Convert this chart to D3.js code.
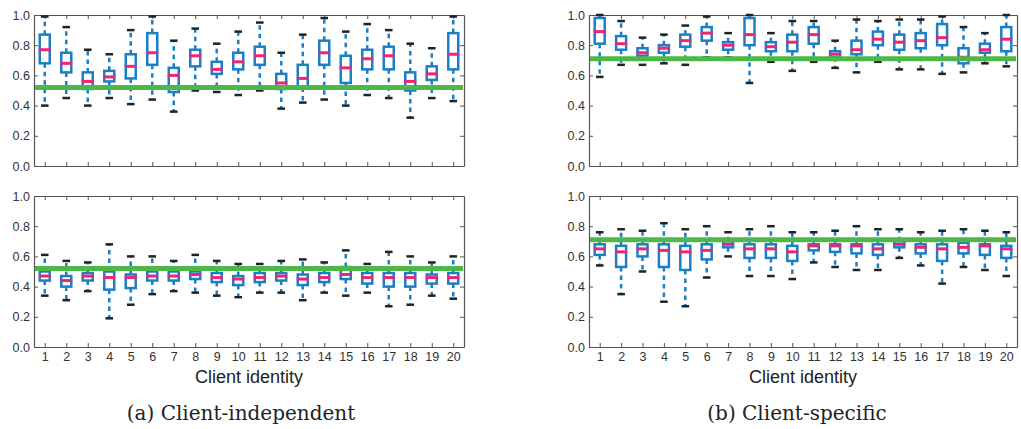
<!DOCTYPE html>
<html>
<head>
<meta charset="utf-8">
<script src="https://cdn.jsdelivr.net/npm/d3@7"></script>
<style>
  body { margin: 0; background: white; }
</style>
</head>
<body>
<script>
// client ids on the x axis
const clients = [1,2,3,4,5,6,7,8,9,10,11,12,13,14,15,16,17,18,19,20]
const yTicks = [0, 0.2, 0.4, 0.6, 0.8, 1.0]

// (a) client-independent, top panel
const aTopHi  = [0.99,0.92,0.77,0.74,0.90,0.99,0.83,0.91,0.81,0.89,0.95,0.75,0.87,0.98,0.89,0.94,0.90,0.81,0.78,0.99]
const aTopQ3  = [0.87,0.75,0.62,0.63,0.74,0.88,0.65,0.77,0.69,0.75,0.79,0.61,0.67,0.83,0.73,0.77,0.79,0.62,0.66,0.88]
const aTopMed = [0.77,0.68,0.56,0.59,0.66,0.75,0.60,0.73,0.64,0.69,0.73,0.55,0.58,0.75,0.65,0.71,0.73,0.56,0.61,0.74]
const aTopQ1  = [0.68,0.62,0.51,0.56,0.58,0.67,0.49,0.66,0.61,0.64,0.67,0.51,0.52,0.67,0.55,0.64,0.64,0.50,0.57,0.64]
const aTopLo  = [0.40,0.45,0.40,0.45,0.41,0.44,0.36,0.50,0.49,0.47,0.50,0.38,0.42,0.44,0.40,0.47,0.45,0.32,0.45,0.43]
// (a) client-independent, bottom panel
const aBotHi  = [0.61,0.57,0.56,0.68,0.60,0.60,0.57,0.61,0.57,0.55,0.55,0.57,0.58,0.56,0.64,0.55,0.63,0.60,0.56,0.60]
const aBotQ3  = [0.50,0.47,0.49,0.50,0.48,0.50,0.50,0.50,0.49,0.47,0.49,0.49,0.48,0.49,0.53,0.49,0.49,0.49,0.48,0.49]
const aBotMed = [0.47,0.44,0.47,0.46,0.46,0.47,0.47,0.48,0.46,0.45,0.46,0.47,0.45,0.46,0.48,0.46,0.46,0.46,0.46,0.46]
const aBotQ1  = [0.44,0.40,0.44,0.38,0.39,0.44,0.44,0.45,0.43,0.41,0.43,0.44,0.41,0.43,0.45,0.42,0.40,0.40,0.42,0.42]
const aBotLo  = [0.34,0.31,0.37,0.19,0.28,0.35,0.37,0.36,0.34,0.33,0.36,0.36,0.31,0.36,0.34,0.36,0.27,0.28,0.34,0.32]
// (b) client-specific, top panel
const bTopHi  = [1.00,0.96,0.85,0.87,0.93,0.99,0.88,1.00,0.88,0.96,0.96,0.83,0.97,0.96,0.97,0.97,0.99,0.92,0.88,1.00]
const bTopQ3  = [0.98,0.86,0.78,0.80,0.87,0.92,0.82,0.98,0.82,0.87,0.92,0.76,0.83,0.89,0.87,0.88,0.94,0.78,0.81,0.92]
const bTopMed = [0.89,0.81,0.75,0.78,0.83,0.88,0.80,0.87,0.79,0.82,0.87,0.74,0.77,0.84,0.82,0.83,0.85,0.72,0.77,0.84]
const bTopQ1  = [0.81,0.77,0.73,0.75,0.79,0.83,0.77,0.80,0.76,0.76,0.81,0.72,0.74,0.80,0.77,0.78,0.80,0.68,0.75,0.76]
const bTopLo  = [0.59,0.67,0.67,0.68,0.67,0.72,0.72,0.55,0.69,0.63,0.69,0.65,0.62,0.69,0.64,0.64,0.61,0.62,0.68,0.66]
// (b) client-specific, bottom panel
const bBotHi  = [0.76,0.78,0.77,0.82,0.78,0.80,0.76,0.78,0.80,0.76,0.76,0.77,0.80,0.78,0.78,0.76,0.77,0.78,0.77,0.76]
const bBotQ3  = [0.68,0.67,0.68,0.68,0.67,0.68,0.70,0.68,0.68,0.67,0.68,0.68,0.68,0.68,0.70,0.68,0.68,0.69,0.68,0.67]
const bBotMed = [0.65,0.63,0.65,0.64,0.63,0.64,0.68,0.65,0.65,0.63,0.67,0.67,0.67,0.65,0.68,0.66,0.65,0.66,0.67,0.65]
const bBotQ1  = [0.61,0.53,0.60,0.53,0.51,0.58,0.66,0.59,0.59,0.57,0.64,0.63,0.62,0.61,0.66,0.62,0.57,0.62,0.61,0.59]
const bBotLo  = [0.54,0.35,0.50,0.30,0.27,0.46,0.60,0.47,0.47,0.45,0.56,0.53,0.51,0.51,0.59,0.54,0.42,0.53,0.51,0.47]

const refA = 0.52
const refB = 0.71

const width = 1021
const height = 429

const svg = d3.select("body")
    .append("svg")
    .attr("width", width)
    .attr("height", height)
    .style("background", "white")

function drawPanel(x0, x1, y0, y1, hi, q3, med, q1, lo, ref, withLabels) {
    const x = d3.scaleLinear().domain([0.5, 20.5]).range([x0, x1])
    const y = d3.scaleLinear().domain([0, 1]).range([y1, y0])
    const g = svg.append("g")

    // axes, ticks pointing inward
    g.append("g")
        .attr("transform", `translate(0,${y1})`)
        .call(d3.axisBottom(x).tickValues(clients).tickSize(-4).tickSizeOuter(0).tickPadding(5)
            .tickFormat(withLabels ? d => d : ""))
    g.append("g")
        .attr("transform", `translate(0,${y0})`)
        .call(d3.axisTop(x).tickValues(clients).tickSize(-4).tickSizeOuter(0).tickFormat(""))
    g.append("g")
        .attr("transform", `translate(${x0},0)`)
        .call(d3.axisLeft(y).tickValues(yTicks).tickSize(-4).tickSizeOuter(0).tickPadding(4)
            .tickFormat(d3.format(".1f")))
    g.append("g")
        .attr("transform", `translate(${x1},0)`)
        .call(d3.axisRight(y).tickValues(yTicks).tickSize(-4).tickSizeOuter(0).tickFormat(""))

    g.selectAll(".domain").attr("stroke", "#555").attr("stroke-width", 1.2)
    g.selectAll(".tick line").attr("stroke", "#555").attr("stroke-width", 1)
    g.selectAll(".tick text")
        .attr("fill", "#333")
        .attr("font-family", "Liberation Sans, Arial, sans-serif")
        .attr("font-size", "12.5px")

    const boxes = g.selectAll(".box")
        .data(clients)
        .enter()
        .append("g")

    // dashed whiskers
    boxes.append("line")
        .attr("x1", d => x(d)).attr("x2", d => x(d))
        .attr("y1", (d, i) => y(q3[i])).attr("y2", (d, i) => y(hi[i]))
        .attr("stroke", "#1b7fc6").attr("stroke-width", 2.5)
        .attr("stroke-dasharray", "4.5,4")
    boxes.append("line")
        .attr("x1", d => x(d)).attr("x2", d => x(d))
        .attr("y1", (d, i) => y(q1[i])).attr("y2", (d, i) => y(lo[i]))
        .attr("stroke", "#1b7fc6").attr("stroke-width", 2.5)
        .attr("stroke-dasharray", "4.5,4")
    // caps
    boxes.append("line")
        .attr("x1", d => x(d) - 3.8).attr("x2", d => x(d) + 3.8)
        .attr("y1", (d, i) => y(hi[i])).attr("y2", (d, i) => y(hi[i]))
        .attr("stroke", "#222").attr("stroke-width", 2.5)
    boxes.append("line")
        .attr("x1", d => x(d) - 3.8).attr("x2", d => x(d) + 3.8)
        .attr("y1", (d, i) => y(lo[i])).attr("y2", (d, i) => y(lo[i]))
        .attr("stroke", "#222").attr("stroke-width", 2.5)
    // box
    boxes.append("rect")
        .attr("x", d => x(d) - 5)
        .attr("width", 10)
        .attr("y", (d, i) => y(q3[i]))
        .attr("height", (d, i) => y(q1[i]) - y(q3[i]))
        .attr("fill", "none")
        .attr("stroke", "#1b7fc6").attr("stroke-width", 2.5)
    // median
    boxes.append("line")
        .attr("x1", d => x(d) - 6).attr("x2", d => x(d) + 6)
        .attr("y1", (d, i) => y(med[i])).attr("y2", (d, i) => y(med[i]))
        .attr("stroke", "#ec2578").attr("stroke-width", 3)

    // reference line
    g.append("line")
        .attr("x1", x0 + 1).attr("x2", x1 - 1)
        .attr("y1", y(ref)).attr("y2", y(ref))
        .attr("stroke", "#4db848").attr("stroke-width", 5)

    if (withLabels) {
        g.append("text")
            .attr("x", (x0 + x1) / 2)
            .attr("y", 383)
            .attr("text-anchor", "middle")
            .attr("font-family", "Liberation Sans, Arial, sans-serif")
            .attr("font-size", "18px")
            .attr("fill", "#222")
            .text("Client identity")
    }
}

drawPanel(34, 464, 15, 166, aTopHi, aTopQ3, aTopMed, aTopQ1, aTopLo, refA, false)
drawPanel(34, 464, 196, 347, aBotHi, aBotQ3, aBotMed, aBotQ1, aBotLo, refA, true)
drawPanel(589, 1017, 15, 166, bTopHi, bTopQ3, bTopMed, bTopQ1, bTopLo, refB, false)
drawPanel(589, 1017, 196, 347, bBotHi, bBotQ3, bBotMed, bBotQ1, bBotLo, refB, true)

svg.append("text")
    .attr("x", 241)
    .attr("y", 420)
    .attr("text-anchor", "middle")
    .attr("font-family", "DejaVu Serif, serif")
    .attr("font-size", "20px")
    .attr("fill", "#222")
    .text("(a) Client-independent")
svg.append("text")
    .attr("x", 797)
    .attr("y", 420)
    .attr("text-anchor", "middle")
    .attr("font-family", "DejaVu Serif, serif")
    .attr("font-size", "20px")
    .attr("fill", "#222")
    .text("(b) Client-specific")
</script>
</body>
</html>
